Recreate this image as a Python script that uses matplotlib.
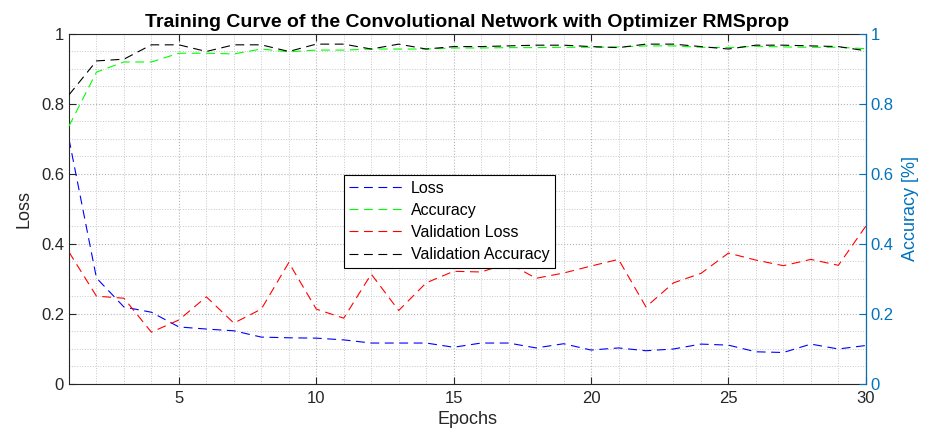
import numpy as np
import matplotlib.pyplot as plt
from matplotlib.ticker import MultipleLocator

plt.rcParams['font.family'] = ['Liberation Sans', 'DejaVu Sans']

# Значения по эпохам
epochs = np.arange(1, 31)
loss = [0.700, 0.303, 0.220, 0.205, 0.163, 0.157, 0.152, 0.134, 0.132, 0.131,
        0.126, 0.117, 0.117, 0.117, 0.105, 0.117, 0.117, 0.103, 0.115, 0.097,
        0.103, 0.095, 0.100, 0.114, 0.111, 0.092, 0.090, 0.114, 0.100, 0.110]
val_loss = [0.377, 0.251, 0.245, 0.148, 0.183, 0.249, 0.174, 0.214, 0.347, 0.214,
            0.188, 0.314, 0.210, 0.289, 0.322, 0.320, 0.345, 0.302, 0.317, 0.337,
            0.356, 0.220, 0.289, 0.316, 0.374, 0.354, 0.338, 0.356, 0.339, 0.451]
acc = [0.737, 0.891, 0.920, 0.920, 0.945, 0.945, 0.943, 0.957, 0.949, 0.954,
       0.954, 0.957, 0.957, 0.957, 0.960, 0.960, 0.961, 0.961, 0.962, 0.962,
       0.963, 0.966, 0.966, 0.962, 0.961, 0.965, 0.963, 0.962, 0.962, 0.958]
val_acc = [0.826, 0.923, 0.928, 0.969, 0.969, 0.950, 0.969, 0.969, 0.950, 0.971,
           0.971, 0.957, 0.971, 0.957, 0.964, 0.964, 0.966, 0.968, 0.968, 0.964,
           0.961, 0.971, 0.971, 0.964, 0.957, 0.968, 0.968, 0.966, 0.964, 0.952]

y_ticks = [0, 0.2, 0.4, 0.6, 0.8, 1]
y_labels = ['0', '0.2', '0.4', '0.6', '0.8', '1']
x_ticks = [5, 10, 15, 20, 25, 30]

matlab_blue = '#0072BD'
axis_grey = '#262626'
dash = (0, (8, 5))

fig = plt.figure(figsize=(9.32, 4.43), dpi=100)
ax1 = fig.add_axes([0.074, 0.1332, 0.855, 0.7901])
ax2 = ax1.twinx()

l1, = ax1.plot(epochs, loss, color='blue', linestyle=dash, linewidth=0.8, label='Loss')
l3, = ax1.plot(epochs, val_loss, color='red', linestyle=dash, linewidth=0.8, label='Validation Loss')
l2, = ax2.plot(epochs, acc, color='#00ff00', linestyle=dash, linewidth=0.8, label='Accuracy')
l4, = ax2.plot(epochs, val_acc, color='black', linestyle=dash, linewidth=0.8, label='Validation Accuracy')

ax1.set_xlim(1, 30)
ax1.set_ylim(0, 1)
ax2.set_ylim(0, 1)

ax1.set_xticks(x_ticks)
ax1.xaxis.set_minor_locator(MultipleLocator(1))
ax1.yaxis.set_minor_locator(MultipleLocator(0.05))
ax1.set_yticks(y_ticks)
ax1.set_yticklabels(y_labels)
ax2.set_yticks(y_ticks)
ax2.set_yticklabels(y_labels)

# Сетка пунктиром, как в MATLAB с grid minor
ax1.grid(which='major', color='#b4b4b4', linestyle=':', linewidth=0.8)
ax1.grid(which='minor', color='#c8c8c8', linestyle=':', linewidth=0.7)

ax1.tick_params(axis='both', which='major', direction='in', length=5, labelsize=12,
                colors=axis_grey, top=True, width=0.8)
ax1.tick_params(axis='x', which='major', pad=5)
ax1.tick_params(axis='both', which='minor', length=0)
ax2.tick_params(axis='y', which='major', direction='in', length=5, labelsize=12,
                colors=matlab_blue, width=0.8)
ax2.tick_params(axis='y', which='minor', length=0)

for s in ['left', 'top', 'bottom']:
    ax1.spines[s].set_color(axis_grey)
    ax1.spines[s].set_linewidth(0.8)
for s in ['left', 'top', 'bottom']:
    ax2.spines[s].set_visible(False)
ax2.spines['right'].set_color(matlab_blue)
ax2.spines['right'].set_linewidth(0.8)

ax1.set_xlabel('Epochs', fontsize=13, color=axis_grey, labelpad=4)
ax1.set_ylabel('Loss', fontsize=13, color=axis_grey, labelpad=6)
ax2.set_ylabel('Accuracy [%]', fontsize=13, color=matlab_blue, labelpad=6)
ax1.set_title('Training Curve of the Convolutional Network with Optimizer RMSprop',
              fontsize=14, fontweight='bold', pad=5)

leg = ax2.legend(handles=[l1, l2, l3, l4], loc='upper left',
                 bbox_to_anchor=(0.345, 0.597), fontsize=11.5, fancybox=False,
                 framealpha=1, edgecolor='black', borderaxespad=0,
                 handlelength=3.4, handletextpad=0.45, labelspacing=0.45,
                 borderpad=0.35)
leg.get_frame().set_linewidth(0.8)

plt.savefig('out.png', dpi=100)
